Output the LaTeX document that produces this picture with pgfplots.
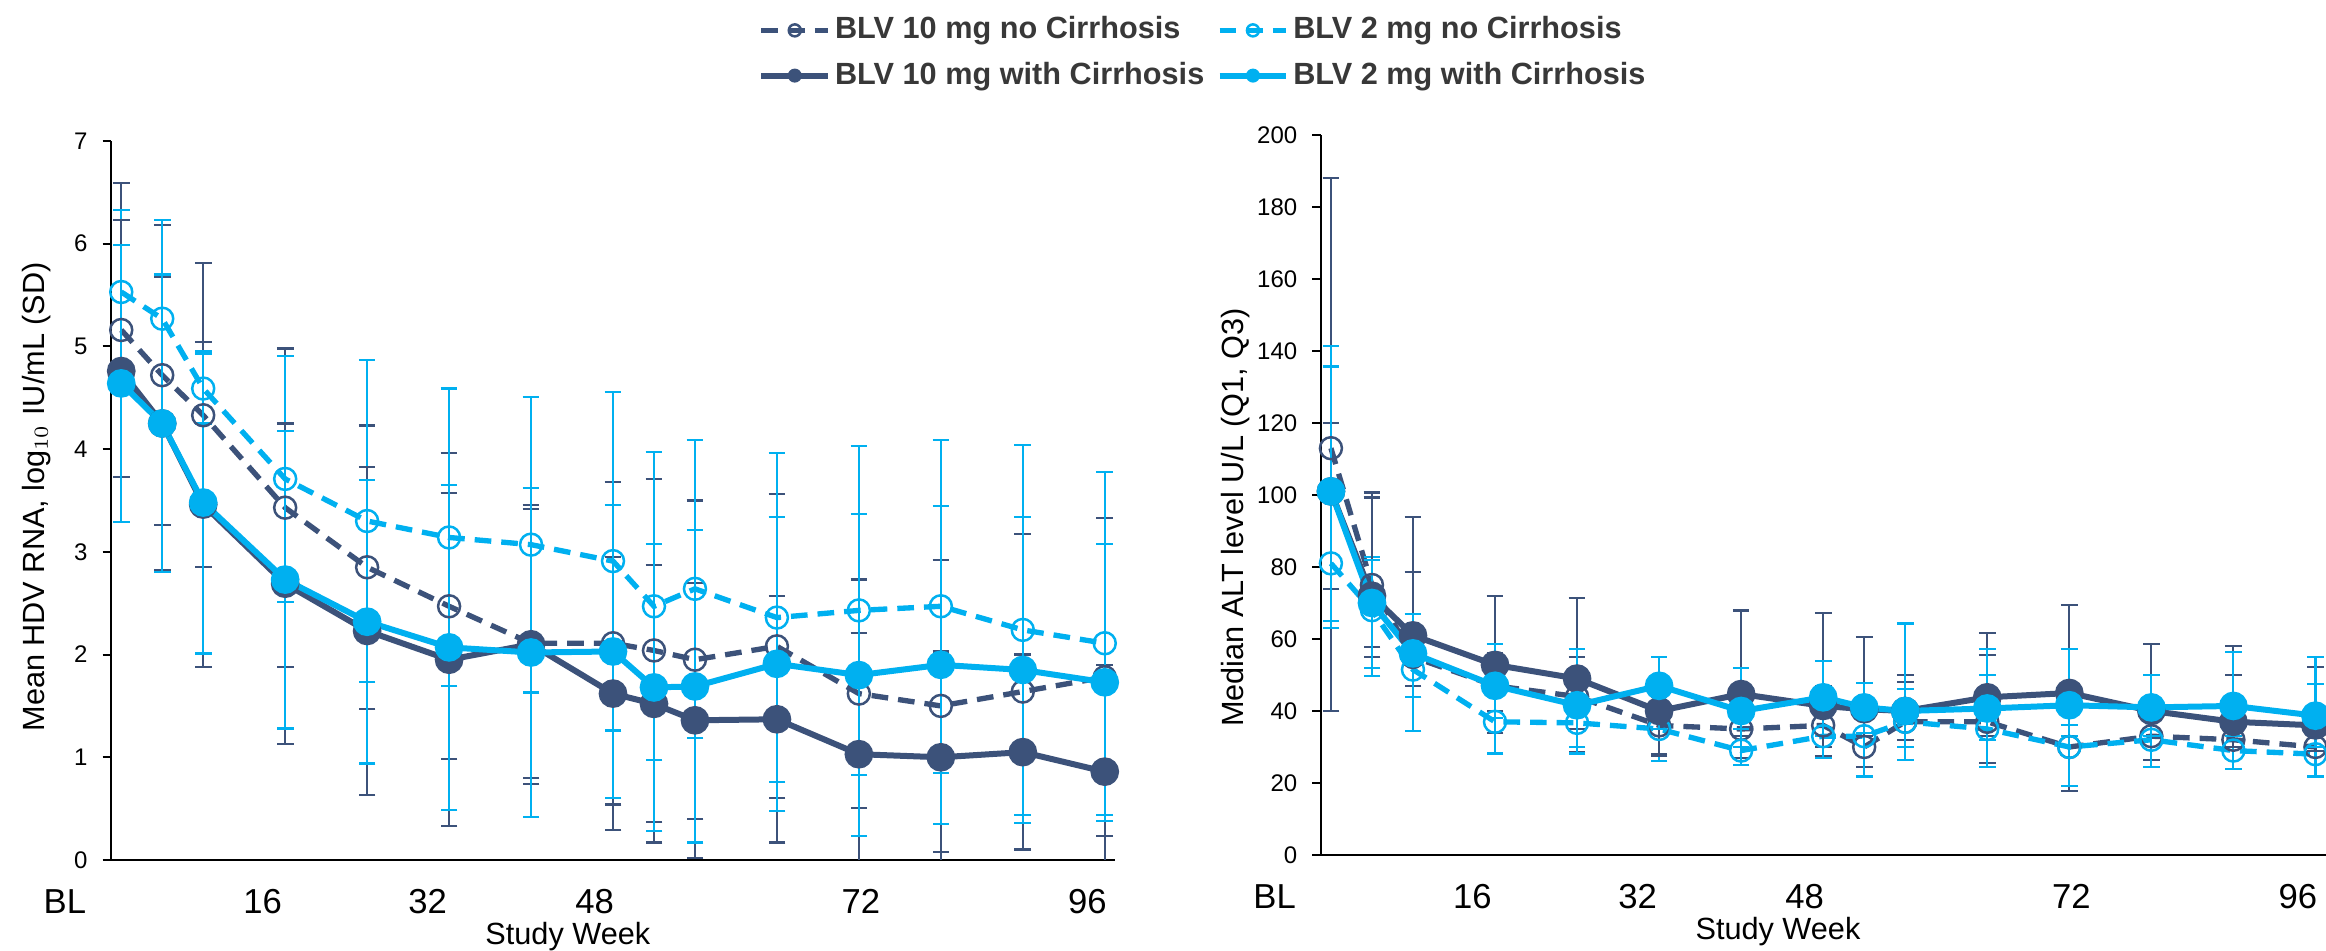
\documentclass[border=0pt]{standalone}
\usepackage{fontspec}
\setmainfont{Liberation Sans}
\usepackage{pgfplots}
\usepackage{pgfplotstable}
\pgfplotsset{compat=1.18}
\definecolor{dk}{RGB}{60,82,122}
\definecolor{lb}{RGB}{0,176,240}

% ---------- Left panel: mean HDV RNA (SD) ----------
\pgfplotstableread{
x y e
0 5.16 1.43
4 4.72 1.46
8 4.33 1.48
16 3.43 1.55
24 2.85 1.38
32 2.47 1.49
40 2.11 1.31
48 2.11 1.57
52 2.04 1.67
56 1.95 1.55
64 2.08 1.48
72 1.62 1.11
80 1.50 1.42
88 1.64 1.53
96 1.78 1.55
}\LTenNo
\pgfplotstableread{
x y e
0 5.53 0.80
4 5.27 0.96
8 4.59 0.34
16 3.71 1.20
24 3.30 1.57
32 3.14 1.45
40 3.07 1.44
48 2.91 1.65
52 2.47 1.50
56 2.64 1.45
64 2.36 1.60
72 2.43 1.60
80 2.47 1.62
88 2.24 1.80
96 2.11 1.67
}\LTwoNo
\pgfplotstableread{
x y e
0 4.76 1.47
4 4.25 1.43
8 3.46 1.58
16 2.69 1.56
24 2.23 1.60
32 1.95 1.62
40 2.10 1.36
48 1.62 1.33
52 1.52 1.35
56 1.36 1.34
64 1.37 1.20
72 1.03 1.18
80 1.00 1.03
88 1.05 0.95
96 0.86 1.04
}\LTenWith
\pgfplotstableread{
x y e
0 4.64 1.35
4 4.25 1.45
8 3.48 1.47
16 2.73 1.45
24 2.32 1.38
32 2.07 1.58
40 2.02 1.60
48 2.03 1.43
52 1.68 1.40
56 1.69 1.52
64 1.91 1.43
72 1.80 1.57
80 1.90 1.55
88 1.85 1.49
96 1.73 1.35
}\LTwoWith

% ---------- Right panel: median ALT (Q1, Q3) ----------
\pgfplotstableread{
x y ep em
0 113 75 73
4 75 25.7 17.2
8 55 23.7 11
16 47 9 13
24 44 11 15.4
32 36 8 8
40 35 10 8
48 36 11 8.5
52 30 8 5.6
56 37 11 7
64 37 18.5 11.5
72 30 6 12.2
80 33 7 6.5
88 32 18.1 8.1
96 30 8 8
}\RTenNo
\pgfplotstableread{
x y ep em
0 81 54.7 16
4 68 14.7 18.3
8 51.5 6.5 17.1
16 37 8 8.8
24 36.7 5.3 8.5
32 35 5 9
40 29 6 4
48 33 7 6
52 33 7 11.2
56 37 9 7
64 35 15 10.5
72 30 6 10.9
80 32 6 7.5
88 29 6 5
96 28 19.4 6.2
}\RTwoNo
\pgfplotstableread{
x y ep em
0 101 19 27
4 72 27.3 17
8 61 33 14
16 52.8 19.2 12.8
24 49 22.4 14
32 40 8 12.5
40 44.7 23.2 11.7
48 41.4 25.9 11.4
52 40.5 20.1 7.5
56 40 9.9 8
64 43.8 17.8 10.8
72 45 24.4 12
80 40 18.6 7
88 37 21 7
96 36 16.2 7
}\RTenWith
\pgfplotstableread{
x y ep em
0 101 40.5 38
4 70 12 18
8 56 11 12
16 47 11.6 9
24 41.6 15.7 11.6
32 47 8 12
40 40 12 10
48 43.8 10 10.8
52 41 6.8 7
56 40 24.3 13.5
64 40.7 16.6 8.7
72 41.6 15.7 8.6
80 41 9.1 8
88 41.4 15.1 8.4
96 38.7 16.4 8.7
}\RTwoWith

\pgfplotsset{
  dashS/.style={color=#1, line width=1.6pt, dash pattern=on 5pt off 3pt,
     mark=o, mark size=3.3pt, mark options={solid, line width=0.75pt, fill=none}},
  solidS/.style={color=#1, line width=1.8pt, solid,
     mark=*, mark size=3.4pt, mark options={solid, fill=#1, draw=#1}},
  ebars/.style={error bars/.cd, y dir=both, y explicit,
     error bar style={line width=0.65pt, solid, color=#1},
     error mark options={rotate=90, mark size=2.5pt, line width=0.65pt, solid, color=#1}},
  panel/.style={
     scale only axis, width=301.2pt, height=216pt,
     axis x line=bottom, axis y line=left, axis line style={-, line width=0.6pt, black},
     xmin=-1, xmax=97,
     xtick={0,13.8,29.9,46.2,72.2,94.3},
     xticklabels={\makebox[0pt]{\kern-33.8pt BL},16,32,48,72,96},
     xtick style={draw=none},
     xticklabel style={anchor=center, yshift=-9.9pt, font=\fontsize{10.4}{12}\selectfont},
     tick align=outside, major tick length=2.5pt,
     ytick style={line width=0.6pt, black},
     yticklabel style={font=\fontsize{7.2}{8.5}\selectfont, xshift=-1pt},
     /pgf/number format/assume math mode=true,
     label style={font=\fontsize{9.2}{11}\selectfont},
     xlabel={Study Week},
     xlabel style={at={(axis description cs:0.455,0)}, anchor=center, yshift=-23.1pt},
     legend image code/.code={
        \draw[##1, mark=none] (0pt,0pt) -- (20pt,0pt);
        \draw[##1, mark size=1.8pt, line width=0.6pt] plot coordinates {(10pt,0pt)};
     },
  },
}

\begin{document}
\begin{tikzpicture}
\useasboundingbox (0,0) rectangle (697.8pt,285.3pt);
\clip (0,0) rectangle (697.8pt,285.3pt);

\begin{axis}[panel,
  at={(33.3pt,27.3pt)}, anchor=south west, height=215.7pt,
  ymin=0, ymax=7, ytick={0,1,...,7},
  ylabel={Mean HDV RNA, log$_{10}$ IU/mL (SD)},
  ylabel style={at={(axis description cs:-0.074,0.505)}, anchor=center},
  legend columns=2,
  legend cell align=left,
  legend style={at={(axis description cs:1.0886,1.1224)}, anchor=center,
     draw=none, fill=none, font=\fontsize{9.2}{11}\selectfont\bfseries, text=black!78,
     row sep=3pt, nodes={inner sep=1.2pt},
     /tikz/every even column/.append style={column sep=2.5pt}},
]
\addplot[dashS=dk, ebars=dk] table[x=x,y=y,y error=e] {\LTenNo};
\addlegendentry{BLV 10 mg no Cirrhosis}
\addplot[dashS=lb, ebars=lb] table[x=x,y=y,y error=e] {\LTwoNo};
\addlegendentry{BLV 2 mg no Cirrhosis}
\addplot[solidS=dk, ebars=dk] table[x=x,y=y,y error=e] {\LTenWith};
\addlegendentry{BLV 10 mg with Cirrhosis}
\addplot[solidS=lb, ebars=lb] table[x=x,y=y,y error=e] {\LTwoWith};
\addlegendentry{BLV 2 mg with Cirrhosis}
\end{axis}

\begin{axis}[panel,
  at={(396.2pt,28.8pt)}, anchor=south west, width=301.5pt, height=216pt,
  ymin=0, ymax=200, ytick={0,20,...,200},
  ylabel={Median ALT level U/L (Q1, Q3)},
  ylabel style={at={(axis description cs:-0.085,0.469)}, anchor=center},
]
\addplot[dashS=dk, ebars=dk] table[x=x,y=y,y error plus=ep,y error minus=em] {\RTenNo};
\addplot[dashS=lb, ebars=lb] table[x=x,y=y,y error plus=ep,y error minus=em] {\RTwoNo};
\addplot[solidS=dk, ebars=dk] table[x=x,y=y,y error plus=ep,y error minus=em] {\RTenWith};
\addplot[solidS=lb, ebars=lb] table[x=x,y=y,y error plus=ep,y error minus=em] {\RTwoWith};
\end{axis}
\end{tikzpicture}
\end{document}
